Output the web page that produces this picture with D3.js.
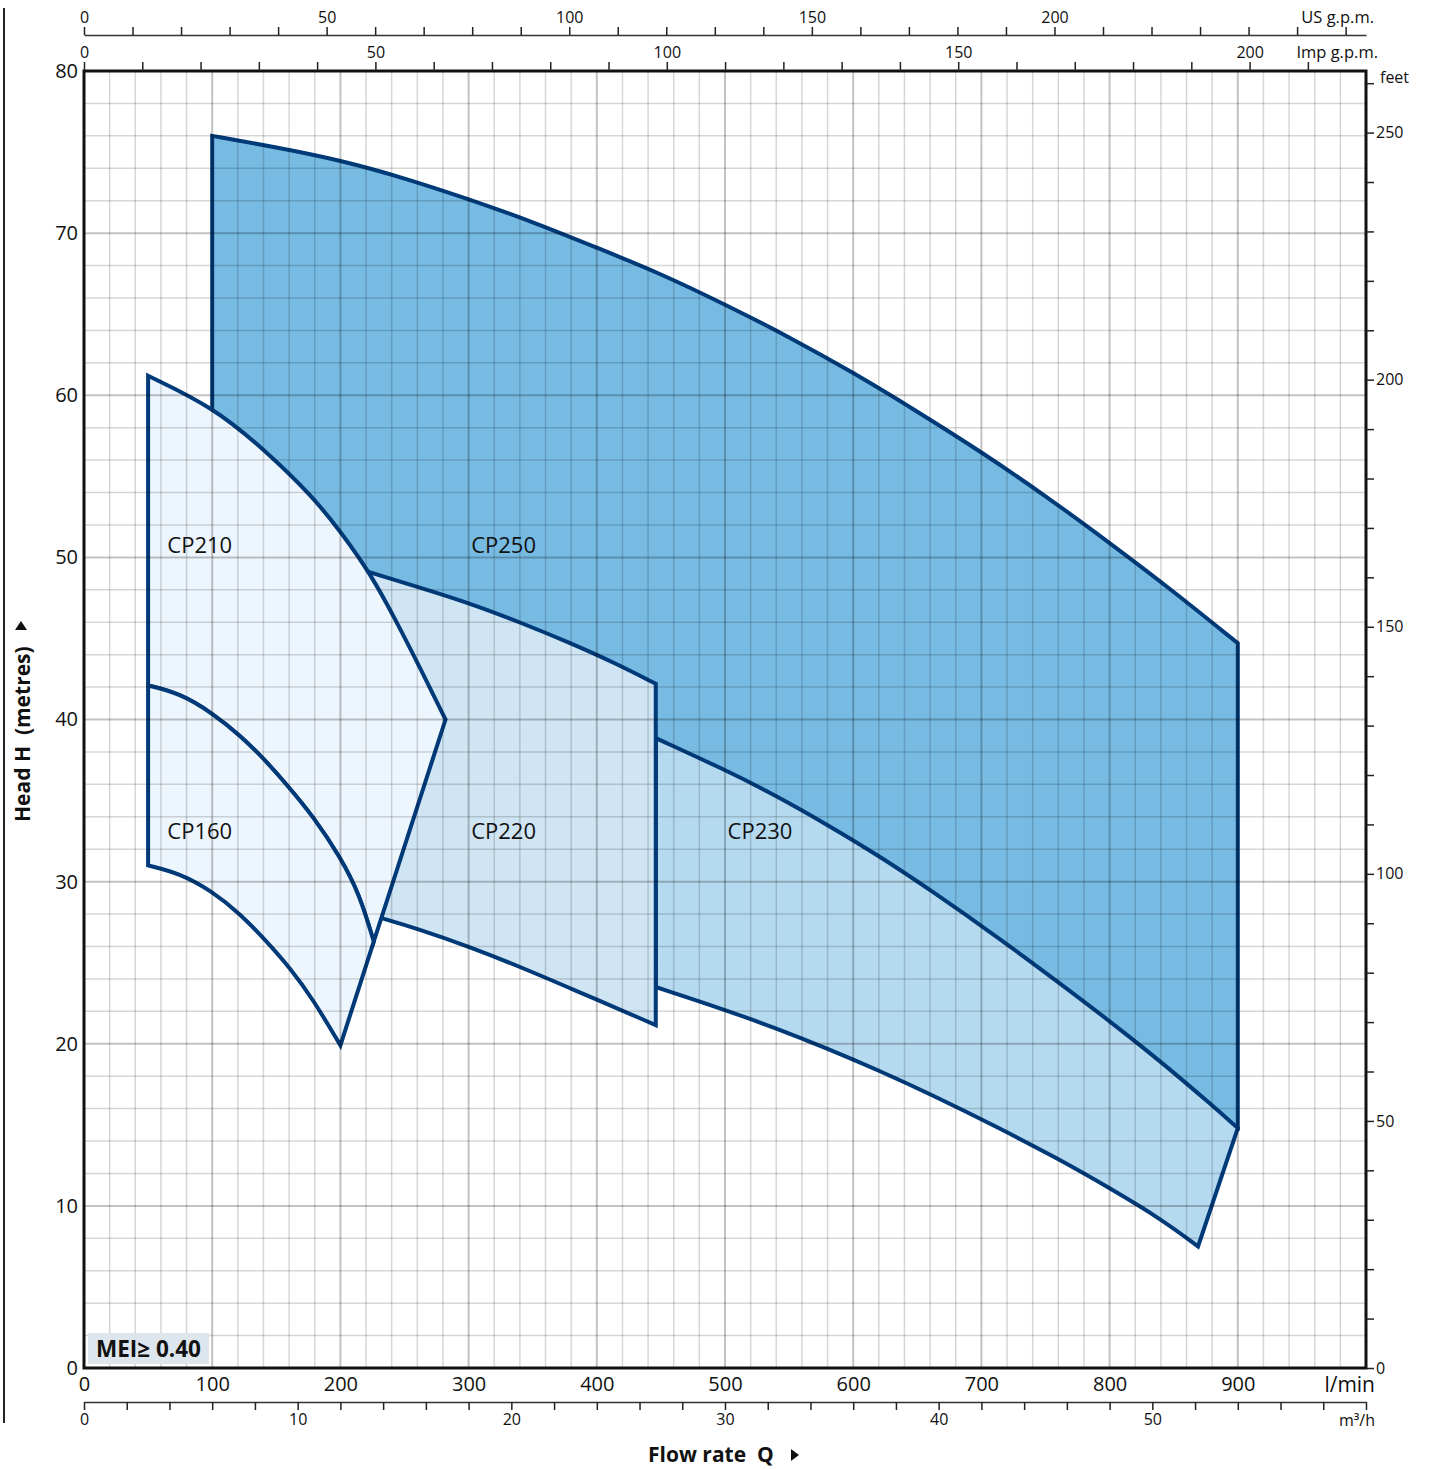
<!DOCTYPE html>
<html>
<head>
<meta charset="utf-8">
<script src="https://cdn.jsdelivr.net/npm/d3@7"></script>
<style>
  body { margin: 0; background: #fff; }
  svg { display: block; font-family: 'Open Sans', sans-serif; }
</style>
</head>
<body>
<div id="container"></div>
<script>
// performance fields, [flow l/min, head m]
const cp250Top = [[100, 76.0], [150, 75.3], [200, 74.5], [250, 73.4], [300, 72.1], [350, 70.7], [400, 69.1], [450, 67.5],
  [500, 65.6], [550, 63.6], [600, 61.4], [650, 59.0], [700, 56.5], [750, 53.8], [800, 50.9], [850, 47.9], [900, 44.7]];
// lower edge of CP250 lies under the other fields, only its end shows
const cp250Low = [[100, 48], [200, 45], [300, 40], [400, 35], [500, 30], [600, 26], [700, 22], [800, 18], [900, 14.8]];
const cp230Top = [[446, 38.85], [500, 36.9], [540, 35.3], [580, 33.5], [620, 31.6], [660, 29.5], [714, 26.5],
  [760, 23.8], [800, 21.4], [840, 18.9], [880, 16.2], [900, 14.8]];
const cp230Low = [[446, 23.5], [500, 22.1], [540, 20.95], [580, 19.7], [620, 18.35], [660, 16.9], [714, 14.8],
  [760, 12.9], [800, 11.1], [840, 9.2], [869, 7.5]];
const cp220Top = [[222, 49.1], [259.5, 48.2], [300, 47.2], [340, 46.0], [380, 44.7], [415, 43.45], [446, 42.2]];
const cp220Low = [[232, 27.75], [260, 27.1], [300, 26.0], [340, 24.75], [380, 23.4], [446, 21.15]];
const cp210Top = [[50, 61.2], [100, 59.3], [140, 56.7], [179, 53.7], [200, 51.6], [223.5, 49.0], [244, 46.0], [262, 43.2], [282, 40.0]];
const cp160Top = [[50, 42.1], [75, 41.6], [100, 40.4], [122, 39.0], [140, 37.6], [158, 36.0], [179, 34.0], [200, 31.5], [215, 29.2], [226, 26.3]];
const cp160Low = [[50, 31.0], [75, 30.5], [100, 29.4], [122, 28.0], [142, 26.35], [161, 24.65], [179, 22.7], [200, 19.9]];

const models = ['CP250', 'CP230', 'CP220', 'CP210', 'CP160'];
const labelPos = [[302, 50.3], [502, 32.6], [302, 32.6], [65, 50.3], [65, 32.6]];

// axes
const headTicks = [0, 10, 20, 30, 40, 50, 60, 70, 80];
const flowTicks = [0, 100, 200, 300, 400, 500, 600, 700, 800, 900];
const usLabels = [0, 50, 100, 150, 200];
const impLabels = [0, 50, 100, 150, 200];
const m3hLabels = [0, 10, 20, 30, 40, 50];
const feetLabels = [0, 50, 100, 150, 200, 250];

const US_GAL = 3.785; const IMP_GAL = 4.546; const FT = 3.28084;

const width = 1431; const height = 1470;
const svg = d3.select('#container').append('svg').attr('width', width).attr('height', height);

const x = d3.scaleLinear().domain([0, 1000]).range([84, 1366]);
const y = d3.scaleLinear().domain([0, 80]).range([1368, 71]);
const xUs = d3.scaleLinear().domain([0, 1000 / US_GAL]).range(x.range());
const xImp = d3.scaleLinear().domain([0, 1000 / IMP_GAL]).range(x.range());
const xM3 = d3.scaleLinear().domain([0, 60]).range(x.range());
const yFt = d3.scaleLinear().domain([0, 80 * FT]).range(y.range());

const line = d3.line().x((d) => x(d[0])).y((d) => y(d[1])).curve(d3.curveBasis);
const shape = (top, low) => line(top) + line(low.slice().reverse()).replace('M', 'L') + 'Z';

const fields = [
  {top: cp250Top, low: cp250Low, fill: '#77bbe3'},
  {top: cp230Top, low: cp230Low, fill: '#b5daf0'},
  {top: cp220Top, low: cp220Low, fill: '#cfe5f4'},
  {top: cp210Top, low: cp160Top, fill: '#eef6fd'},
  {top: cp160Top, low: cp160Low, fill: '#eef6fd'},
];

// fields, back to front
svg.append('g').selectAll('path').data(fields).join('path')
    .attr('d', (d) => shape(d.top, d.low))
    .attr('fill', (d) => d.fill)
    .attr('stroke', '#003a78')
    .attr('stroke-width', 4)
    .attr('stroke-linejoin', 'miter');

// grid over the fields
const grid = svg.append('g');
grid.selectAll('.gx').data(d3.range(20, 1000, 20)).join('line')
    .attr('x1', (d) => x(d)).attr('x2', (d) => x(d))
    .attr('y1', y(80)).attr('y2', y(0))
    .attr('stroke', (d) => d % 100 == 0 ? 'rgba(0,0,0,0.24)' : 'rgba(0,0,0,0.16)')
    .attr('stroke-width', (d) => d % 100 == 0 ? 2 : 1.5);
grid.selectAll('.gy').data(d3.range(2, 80, 2)).join('line')
    .attr('y1', (d) => y(d)).attr('y2', (d) => y(d))
    .attr('x1', x(0)).attr('x2', x(1000))
    .attr('stroke', (d) => d % 10 == 0 ? 'rgba(0,0,0,0.24)' : 'rgba(0,0,0,0.16)')
    .attr('stroke-width', (d) => d % 10 == 0 ? 2 : 1.5);

// model names
svg.append('g').selectAll('text').data(models).join('text')
    .attr('x', (d, i) => x(labelPos[i][0]))
    .attr('y', (d, i) => y(labelPos[i][1]))
    .attr('font-size', 22)
    .attr('fill', '#111')
    .text((d) => d);

// frame
svg.append('rect')
    .attr('x', x(0)).attr('y', y(80))
    .attr('width', x(1000) - x(0)).attr('height', y(0) - y(80))
    .attr('fill', 'none').attr('stroke', '#111').attr('stroke-width', 3);

const styleAxis = (g, size) => {
  g.attr('font-family', '\'Open Sans\', sans-serif').attr('font-size', size);
  g.selectAll('text').attr('fill', '#111');
  g.selectAll('line').attr('stroke', '#222').attr('stroke-width', 1.5);
  g.select('.domain').attr('stroke', '#333').attr('stroke-width', 1.5);
};

// left: metres
svg.append('g').attr('transform', 'translate(' + x(0) + ',0)')
    .call(d3.axisLeft(y).tickValues(headTicks).tickSize(0).tickPadding(6))
    .call((g) => g.select('.domain').remove())
    .call((g) => styleAxis(g, 20));

// bottom: l/min
svg.append('g').attr('transform', 'translate(0,' + y(0) + ')')
    .call(d3.axisBottom(x).tickValues(flowTicks).tickSize(0).tickPadding(9))
    .call((g) => g.select('.domain').remove())
    .call((g) => styleAxis(g, 20));
svg.append('text').attr('x', 1375).attr('y', 1392).attr('text-anchor', 'end')
    .attr('font-size', 21).attr('fill', '#111').text('l/min');

// bottom: m3/h
svg.append('g').attr('transform', 'translate(0,1402)')
    .call(d3.axisBottom(xM3).tickValues(d3.range(0, 61, 2)).tickSize(8).tickPadding(4).tickSizeOuter(0)
        .tickFormat((d) => m3hLabels.includes(d) ? d : ''))
    .call((g) => styleAxis(g, 16));
svg.append('text').attr('x', 1375).attr('y', 1426).attr('text-anchor', 'end')
    .attr('font-size', 16).attr('fill', '#111').text('m³/h');

// top: US g.p.m.
svg.append('g').attr('transform', 'translate(0,35)')
    .call(d3.axisTop(xUs).tickValues(d3.range(0, 261, 10)).tickSize(8).tickPadding(4).tickSizeOuter(0)
        .tickFormat((d) => usLabels.includes(d) ? d : ''))
    .call((g) => styleAxis(g, 16));
svg.append('text').attr('x', 1374).attr('y', 23).attr('text-anchor', 'end')
    .attr('font-size', 16.5).attr('fill', '#111').text('US g.p.m.');

// top: Imp g.p.m.
svg.append('g').attr('transform', 'translate(0,' + y(80) + ')')
    .call(d3.axisTop(xImp).tickValues(d3.range(0, 211, 10)).tickSize(9).tickPadding(4)
        .tickFormat((d) => impLabels.includes(d) ? d : ''))
    .call((g) => g.select('.domain').remove())
    .call((g) => styleAxis(g, 16));
svg.append('text').attr('x', 1378).attr('y', 58).attr('text-anchor', 'end')
    .attr('font-size', 16.5).attr('fill', '#111').text('Imp g.p.m.');

// right: feet
svg.append('g').attr('transform', 'translate(' + x(1000) + ',0)')
    .call(d3.axisRight(yFt).tickValues(d3.range(0, 261, 10)).tickSize(8).tickPadding(2)
        .tickFormat((d) => feetLabels.includes(d) ? d : ''))
    .call((g) => g.select('.domain').remove())
    .call((g) => styleAxis(g, 16));
svg.append('text').attr('x', 1380).attr('y', 83)
    .attr('font-size', 16).attr('fill', '#111').text('feet');

// page edge line
svg.append('line').attr('x1', 4).attr('x2', 4).attr('y1', 8).attr('y2', 1423)
    .attr('stroke', '#222').attr('stroke-width', 2);

// axis titles
svg.append('text')
    .attr('transform', 'translate(30,822) rotate(-90)')
    .attr('font-size', 21).attr('font-weight', 'bold').attr('fill', '#111')
    .style('white-space', 'pre')
    .text('Head H  (metres)');
svg.append('path').attr('d', 'M15,630L21,621L27,630Z').attr('fill', '#111');

svg.append('text')
    .attr('x', 648).attr('y', 1462)
    .attr('font-size', 21).attr('font-weight', 'bold').attr('fill', '#111')
    .style('white-space', 'pre')
    .text('Flow rate  Q');
svg.append('path').attr('d', 'M791,1449L799,1455L791,1461Z').attr('fill', '#111');

// MEI badge
svg.append('rect').attr('x', 88).attr('y', 1333).attr('width', 121).attr('height', 31).attr('fill', '#dde6ec');
svg.append('text').attr('x', 96).attr('y', 1357)
    .attr('font-size', 22.5).attr('font-weight', 'bold').attr('fill', '#111')
    .text('MEI≥ 0.40');
</script>
</body>
</html>
